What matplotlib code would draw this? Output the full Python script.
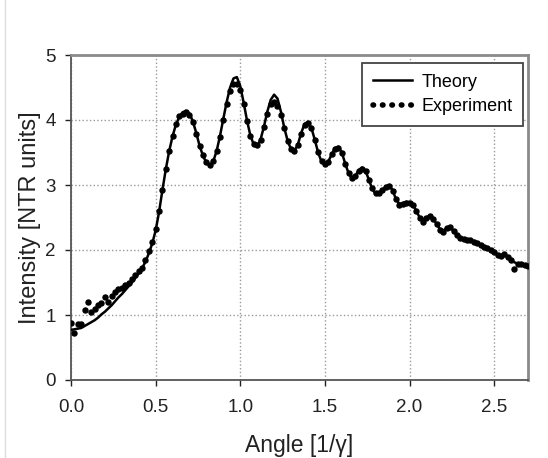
import matplotlib.pyplot as plt
import numpy as np
from matplotlib.lines import Line2D

plt.rcParams['font.family'] = ['Liberation Sans', 'DejaVu Sans']

angle = np.round(np.arange(0, 2.71, 0.02), 2)

theory = [0.77, 0.78, 0.79, 0.80, 0.83, 0.86, 0.89, 0.92, 0.96, 1.01,
          1.05, 1.10, 1.15, 1.21, 1.27, 1.32, 1.38, 1.44, 1.50, 1.57,
          1.64, 1.72, 1.82, 1.95, 2.10, 2.30, 2.58, 2.92, 3.24, 3.52,
          3.75, 3.93, 4.05, 4.12, 4.14, 4.10, 3.98, 3.80, 3.60, 3.45,
          3.34, 3.30, 3.36, 3.52, 3.75, 4.02, 4.28, 4.50, 4.64, 4.66,
          4.52, 4.27, 3.99, 3.76, 3.62, 3.60, 3.70, 3.90, 4.13, 4.31,
          4.39, 4.33, 4.13, 3.88, 3.68, 3.55, 3.53, 3.62, 3.80, 3.94,
          3.97, 3.88, 3.70, 3.50, 3.36, 3.31, 3.36, 3.47, 3.57, 3.59,
          3.50, 3.33, 3.18, 3.10, 3.14, 3.23, 3.27, 3.22, 3.08, 2.94,
          2.86, 2.87, 2.92, 2.98, 3.00, 2.92, 2.78, 2.71, 2.72, 2.74,
          2.74, 2.70, 2.60, 2.50, 2.46, 2.50, 2.53, 2.48, 2.40, 2.32,
          2.30, 2.34, 2.35, 2.29, 2.23, 2.19, 2.17, 2.17, 2.16, 2.14,
          2.11, 2.08, 2.06, 2.03, 2.00, 1.97, 1.93, 1.92, 1.93, 1.90,
          1.85, 1.81, 1.79, 1.78, 1.77, 1.76]

experiment = [0.88, 0.72, 0.86, 0.86, 1.08, 1.20, 1.05, 1.10, 1.15, 1.18,
              1.28, 1.20, 1.30, 1.36, 1.40, 1.42, 1.46, 1.50, 1.56, 1.62,
              1.67, 1.73, 1.85, 1.99, 2.12, 2.32, 2.60, 2.93, 3.25, 3.52,
              3.76, 3.94, 4.06, 4.10, 4.12, 4.08, 3.97, 3.79, 3.60, 3.46,
              3.35, 3.31, 3.37, 3.52, 3.74, 4.00, 4.25, 4.44, 4.55, 4.56,
              4.46, 4.24, 3.98, 3.76, 3.63, 3.61, 3.70, 3.89, 4.10, 4.25,
              4.27, 4.22, 4.08, 3.87, 3.68, 3.56, 3.53, 3.62, 3.79, 3.92,
              3.95, 3.87, 3.70, 3.51, 3.37, 3.32, 3.36, 3.47, 3.56, 3.57,
              3.49, 3.33, 3.19, 3.11, 3.14, 3.22, 3.25, 3.21, 3.08, 2.95,
              2.87, 2.87, 2.92, 2.97, 2.98, 2.91, 2.78, 2.70, 2.71, 2.73,
              2.73, 2.69, 2.60, 2.50, 2.43, 2.49, 2.53, 2.47, 2.40, 2.31,
              2.28, 2.34, 2.35, 2.29, 2.23, 2.19, 2.17, 2.16, 2.16, 2.13,
              2.11, 2.08, 2.05, 2.03, 2.00, 1.97, 1.92, 1.91, 1.94, 1.89,
              1.85, 1.71, 1.79, 1.78, 1.77, 1.76]

fig = plt.figure(figsize=(5.48, 4.58), dpi=100)
ax = fig.add_axes([71 / 548, 1 - 380 / 458, 457 / 548, 325 / 458])

ax.plot(angle, theory, '-', color='black', lw=1.8, zorder=3)
ax.plot(angle, experiment, 'o', color='black', ms=3.6, zorder=4)

ax.set_xlim(0, 2.7)
ax.set_ylim(0, 5)
ax.set_xticks([0.0, 0.5, 1.0, 1.5, 2.0, 2.5])
ax.set_xticklabels(['0.0', '0.5', '1.0', '1.5', '2.0', '2.5'])
ax.set_yticks([0, 1, 2, 3, 4, 5])
ax.grid(True, ls=':', color='#999999', lw=1.0)
ax.tick_params(labelsize=13.5, colors='#222222', length=4, width=1)
ax.tick_params(axis='y', pad=7)
ax.tick_params(axis='x', pad=9.5)

for s in ['left', 'bottom']:
    ax.spines[s].set_color('#555555')
    ax.spines[s].set_linewidth(1.3)
for s in ['top', 'right']:
    ax.spines[s].set_color('#8a8a8a')
    ax.spines[s].set_linewidth(2.0)

ax.set_xlabel('Angle [1/γ]', fontsize=16.5, color='#222222', labelpad=13)
ax.set_ylabel('Intensity [NTR units]', fontsize=17, color='#222222', labelpad=3)

handles = [Line2D([], [], color='black', lw=1.8),
           Line2D([], [], color='black', lw=4, ls=(0, (0.1, 1.6)),
                  dash_capstyle='round')]
leg = ax.legend(handles, ['Theory', 'Experiment'], loc='upper right',
                bbox_to_anchor=(0.99, 0.976), borderaxespad=0,
                fontsize=13, fancybox=False, edgecolor='#444444',
                framealpha=1, handlelength=2.2, handletextpad=0.5,
                borderpad=0.6, labelspacing=0.42)
leg.get_frame().set_linewidth(1.3)

fig.add_artist(Line2D([5 / 548, 5 / 548], [0, 1], color='#dddddd', lw=1))

fig.savefig('out.png', dpi=100)
